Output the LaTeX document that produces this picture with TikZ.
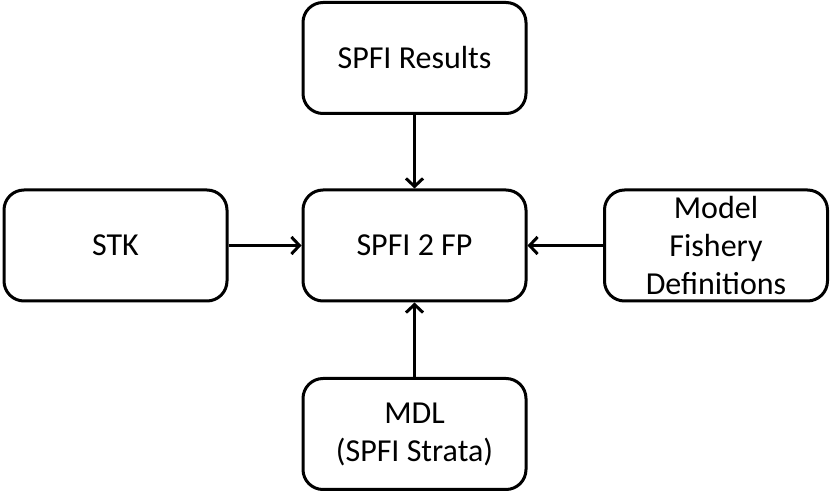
\documentclass[tikz,border=0pt]{standalone}
\usepackage{fontspec}
\setmainfont{Carlito}
\usetikzlibrary{arrows.meta}

\begin{document}
\begin{tikzpicture}[x=1pt, y=-1pt,
  box/.style={draw=black, line width=3pt, rounded corners=20pt,
    minimum width=223pt, minimum height=111pt, align=center,
    font=\fontsize{32}{38}\selectfont, inner sep=0pt},
  flow/.style={line width=3pt, -{Straight Barb[length=8pt,width=17pt]}}]

% Bordi
\useasboundingbox (0,0) rectangle (831,494);

% Riquadri
\node[box] (results) at (414.5,58) {SPFI Results};
\node[box] (spfi) at (414.5,245.5) {SPFI 2 FP};
\node[box] (stk) at (115.5,245.5) {STK};
\node[box] (model) at (716,245.5) {Model\\Fishery\\Definitions};
\node[box] (mdl) at (414.5,434) {MDL\\(SPFI Strata)};

% Frecce
\draw[flow] (results) -- (spfi);
\draw[flow] (stk) -- (spfi);
\draw[flow] (model) -- (spfi);
\draw[flow] (mdl) -- (spfi);

\end{tikzpicture}
\end{document}
